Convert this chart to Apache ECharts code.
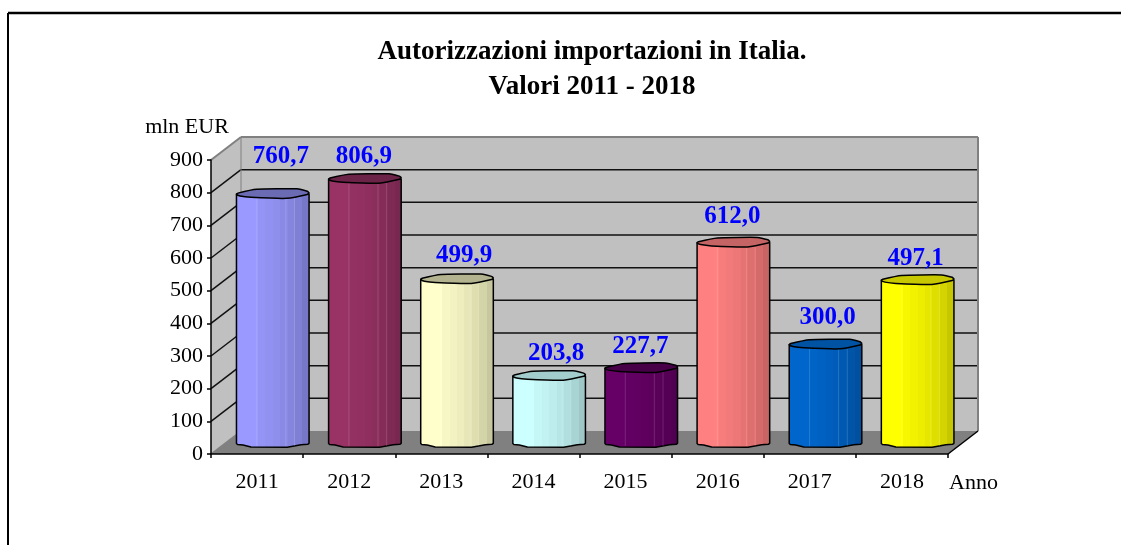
<!DOCTYPE html>
<html><head><meta charset="utf-8">
<style>html,body{margin:0;padding:0;background:#fff}#c{width:1121px;height:545px}</style>
<script src="https://cdn.jsdelivr.net/npm/echarts@6/dist/echarts.min.js"></script>
</head><body><div id="c"></div>
<script>
const years = ['2011','2012','2013','2014','2015','2016','2017','2018'];
const values = [760.7,806.9,499.9,203.8,227.7,612.0,300.0,497.1];
const valueTicks = [0,100,200,300,400,500,600,700,800,900];
const bodyColors = ['#9999ff','#993366','#ffffcc','#ccffff','#660066','#ff8080','#0066cc','#ffff00'];
const capColors = ['#6b6bb3','#6b2447','#b3b38f','#a3cccc','#470047','#c46464','#0052a3','#c8c800'];
const shades = [1,1,1,.97,.95,.93,.9,.87,.83,.78];
const seamFractions = [.28,.68,.8];
const labelDx = [8,-1,7,7,-1,-1,2,-2];
const labelDy = [-37,-22,-24,-22,-22,-26,-27,-22];
const FONT = '"Liberation Serif","Times New Roman",serif';
const DX = 30, DY = 23;

function shade(hex, k){
  const n = parseInt(hex.slice(1),16);
  return 'rgb(' + [(n>>16)&255,(n>>8)&255,n&255].map(c=>Math.round(c*k)).join(',') + ')';
}
function fmt(v){ return v.toFixed(1).replace('.',','); }

function renderRoom(params, api){
  if (params.dataIndex !== 0) return null;
  const g = params.coordSys;
  const x0 = g.x, x1 = g.x + g.width;
  const y0 = api.coord([0,0])[1], yT = api.coord([0,valueTicks[valueTicks.length-1]])[1];
  const kids = [];
  const poly = (pts, fill) => kids.push({type:'polygon',shape:{points:pts},style:{fill:fill},silent:true});
  const line = (a,b,c,w) => kids.push({type:'line',shape:{x1:a[0],y1:a[1],x2:b[0],y2:b[1]},style:{stroke:c,lineWidth:w},silent:true});
  poly([[x0+DX,yT-DY],[x1+DX,yT-DY],[x1+DX,y0-DY],[x0+DX,y0-DY]],'#c0c0c0');
  poly([[x0,yT],[x0+DX,yT-DY],[x0+DX,y0-DY],[x0,y0]],'#c0c0c0');
  poly([[x0,y0],[x1,y0],[x1+DX,y0-DY],[x0+DX,y0-DY]],'#808080');
  valueTicks.forEach(v=>{
    if (v===0 || v===valueTicks[valueTicks.length-1]) return;
    const y = api.coord([0,v])[1];
    line([x0,y],[x0+DX,y-DY],'#111',1.5);
    line([x0+DX,y-DY],[x1+DX,y-DY],'#111',1.5);
  });
  line([x0,yT],[x0+DX,yT-DY],'#808080',2);
  line([x0+DX,yT-DY],[x1+DX,yT-DY],'#808080',2);
  line([x1+DX,yT-DY],[x1+DX,y0-DY],'#808080',2);
  line([x0+DX,yT-DY],[x0+DX,y0-DY],'#808080',1);
  line([x0,y0],[x0+DX,y0-DY],'#808080',1.5);
  line([x1,y0],[x1+DX,y0-DY],'#000',1.5);
  return {type:'group',children:kids};
}

function renderBar(params, api){
  const i = api.value(0), v = api.value(1);
  const base = api.coord([i,0]), top = api.coord([i,v]);
  const cx = base[0] + 15.7, by = base[1] - 11.5, ty = top[1] - 11.5;
  const hw = api.size([1,0])[0] * 0.394;
  const c = bodyColors[i];
  const n = shades.length, stops = [];
  shades.forEach((k,s)=>{
    stops.push({offset:s/n,color:shade(c,k)});
    stops.push({offset:(s+1)/n,color:shade(c,k)});
  });
  const P = (fx,y)=>[cx+fx*hw,y];
  const body = [P(-1,ty),P(-1,by+1),P(-.97,by+2),P(-.82,by+2.6),P(-.6,by+4.6),P(.4,by+4.8),P(.78,by+2.2),P(.96,by+1.8),P(1,by+.8),P(1,ty)];
  const cap = [P(-1,ty+.3),P(-.96,ty-.9),P(-.44,ty-4.7),P(.66,ty-5.2),P(.95,ty-2.8),P(1,ty-1.2),P(.95,ty+.4),P(.39,ty+4.3),P(-.6,ty+3.3),P(-.9,ty+2)];
  const seams = seamFractions.map(f=>{
    const sx = cx - hw + f*2*hw;
    return {type:'line',shape:{x1:sx,y1:ty+4,x2:sx,y2:by+3.5},style:{stroke:'rgba(255,255,255,0.14)',lineWidth:1}};
  });
  return {type:'group',children:[
    {type:'polygon',shape:{points:body},style:{fill:{type:'linear',x:0,y:0,x2:1,y2:0,colorStops:stops},stroke:'#000',lineWidth:1.5,lineJoin:'round'}},
    ...seams,
    {type:'polygon',shape:{points:cap,smooth:0.15},style:{fill:capColors[i],stroke:'#000',lineWidth:1.5,lineJoin:'round'}},
    {type:'text',x:cx+labelDx[i],y:ty+labelDy[i],style:{text:fmt(v),fill:'#0000ff',font:'bold 25px '+FONT,align:'center',verticalAlign:'middle'}}
  ]};
}

const chart = echarts.init(document.getElementById('c'),null,{renderer:'canvas'});
chart.setOption({
  animation:false,
  backgroundColor:'#fff',
  title:{
    text:'Autorizzazioni importazioni in Italia.\nValori 2011 - 2018',
    left:587,top:30,textAlign:'center',
    textStyle:{fontFamily:FONT,fontWeight:'bold',fontSize:27,lineHeight:35,color:'#000'}
  },
  graphic:[
    {type:'line',shape:{x1:8,y1:13,x2:1121,y2:13},style:{stroke:'#000',lineWidth:2.5}},
    {type:'line',shape:{x1:8,y1:13,x2:8,y2:545},style:{stroke:'#000',lineWidth:2}}
  ],
  grid:{left:211,top:160,width:737,height:294},
  xAxis:{
    type:'category',data:years,
    name:'Anno',nameLocation:'end',nameGap:1,
    nameTextStyle:{fontFamily:FONT,fontSize:22,color:'#000',verticalAlign:'top',padding:[18,0,0,0]},
    axisLine:{lineStyle:{color:'#000',width:1.5}},
    axisTick:{show:true,length:4,lineStyle:{color:'#000',width:1.5}},
    axisLabel:{fontFamily:FONT,fontSize:22,color:'#000',margin:17},
    z:5
  },
  yAxis:{
    type:'value',min:0,max:900,interval:100,
    name:'mln EUR',nameLocation:'end',nameGap:22,
    nameTextStyle:{fontFamily:FONT,fontSize:22,color:'#000',align:'center',padding:[0,0,0,-48]},
    axisLine:{show:true,lineStyle:{color:'#000',width:1.5}},
    axisTick:{show:true,length:4,lineStyle:{color:'#000',width:1.5}},
    axisLabel:{fontFamily:FONT,fontSize:22,color:'#000',margin:8},
    splitLine:{show:false},
    z:5
  },
  series:[
    {type:'custom',coordinateSystem:'cartesian2d',renderItem:renderRoom,data:[[0,0]],z:1,silent:true,clip:false},
    {type:'custom',coordinateSystem:'cartesian2d',renderItem:renderBar,data:values.map((v,i)=>[i,v]),encode:{x:0,y:1},z:3,silent:true,clip:false}
  ]
});
</script></body></html>
